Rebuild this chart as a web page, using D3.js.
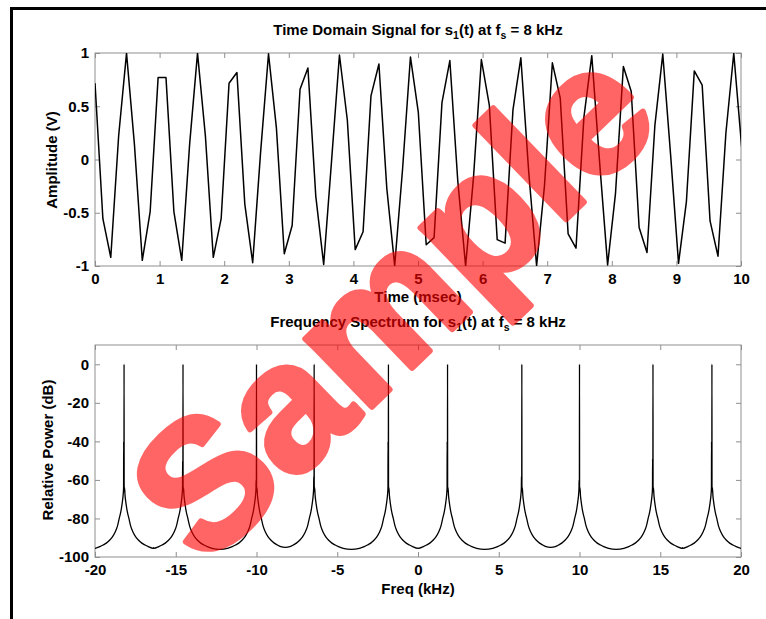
<!DOCTYPE html>
<html>
<head>
<meta charset="utf-8">
<script src="https://cdn.jsdelivr.net/npm/d3@7"></script>
<style>
  body { margin: 0; background: #fff; }
  svg { display: block; }
</style>
</head>
<body>
<div id="chart"></div>
<script>
// Time domain samples (msec, volts)
const sampleTimes = [
  0, 0.122, 0.244, 0.366, 0.488, 0.610, 0.732, 0.854, 0.977, 1.099,
  1.221, 1.343, 1.465, 1.587, 1.709, 1.831, 1.953, 2.075, 2.197, 2.319,
  2.441, 2.563, 2.686, 2.808, 2.930, 3.052, 3.174, 3.296, 3.418, 3.540,
  3.662, 3.784, 3.906, 4.028, 4.150, 4.272, 4.395, 4.517, 4.639, 4.761,
  4.883, 5.005, 5.127, 5.249, 5.371, 5.493, 5.615, 5.737, 5.859, 5.981,
  6.104, 6.226, 6.348, 6.470, 6.592, 6.714, 6.836, 6.958, 7.080, 7.202,
  7.324, 7.446, 7.568, 7.690, 7.813, 7.935, 8.057, 8.179, 8.301, 8.423,
  8.545, 8.667, 8.789, 8.911, 9.033, 9.155, 9.277, 9.399, 9.521, 9.644,
  9.766, 9.888, 10.010
];
const amplitudes = [
  0.717, -0.556, -0.919, 0.221, 0.999, 0.144, -0.947, -0.489, 0.769, 0.769,
  -0.489, -0.947, 0.144, 0.999, 0.221, -0.919, -0.556, 0.716, 0.817, -0.419,
  -0.969, 0.065, 0.993, 0.297, -0.885, -0.619, 0.659, 0.859, -0.346, -0.986,
  -0.013, 0.981, 0.371, -0.846, -0.679, 0.598, 0.897, -0.271, -0.996, -0.092,
  0.963, 0.442, -0.801, -0.734, 0.534, 0.929, -0.195, -1.000, -0.169, 0.938,
  0.511, -0.752, -0.785, 0.466, 0.955, -0.118, -0.998, -0.246, 0.908, 0.577,
  -0.698, -0.832, 0.395, 0.975, -0.039, -0.990, -0.321, 0.873, 0.639, -0.639,
  -0.873, 0.321, 0.990, 0.039, -0.975, -0.395, 0.832, 0.698, -0.577, -0.908,
  0.246, 0.998, 0.118
];

// Spectrum
const peakFreqs = [-18.2, -14.55, -10.0, -6.43, -1.83, 1.83, 6.43, 10.0, 14.55, 18.2];
const peakShoulderDb = [-40, -50, -60, -58, -40, -40, -58, -60, -49, -40];
const skirtOffsets = [0.03, 0.06, 0.1, 0.15, 0.2, 0.3, 0.41, 0.55, 0.72, 0.9, 1.1, 1.3, 1.5, 1.8, 2.3];
const skirtDb = [-64, -68, -71, -74, -76.5, -80, -84, -87, -89.5, -91.3, -92.8, -93.8, -94.6, -95.5, -96];
const gapFloorDb = [-95.2, -96, -95, -96, -95.3, -96, -95, -96, -95.2];

// Tick labels
const timeTicks = [0, 1, 2, 3, 4, 5, 6, 7, 8, 9, 10];
const ampTicks = [-1, -0.5, 0, 0.5, 1];
const freqTicks = [-20, -15, -10, -5, 0, 5, 10, 15, 20];
const powerTicks = [-100, -80, -60, -40, -20, 0];

const attrs = {
  svgWidth: 766,
  svgHeight: 619,
  font: "'Liberation Sans', Arial, Helvetica, sans-serif",
  fontSize: 15,
  boxColor: "#8f8f8f",
  tickSize: 5
};

const svg = d3.select("#chart").append("svg")
  .attr("width", attrs.svgWidth)
  .attr("height", attrs.svgHeight)
  .attr("font-family", attrs.font);

// outer frame (top and left edges only visible)
svg.append("rect")
  .attr("x", 11.5).attr("y", 8.5)
  .attr("width", 800).attr("height", 700)
  .attr("fill", "none").attr("stroke", "#000").attr("stroke-width", 3);

function drawPanel(opts) {
  const { x, y, xTicks, yTicks, id } = opts;
  const [x0, x1] = x.range();
  const [y0, y1] = y.range();
  const g = svg.append("g");
  const plain = d => String(d);

  g.append("clipPath").attr("id", id)
    .append("rect").attr("x", x0).attr("y", y1).attr("width", x1 - x0).attr("height", y0 - y1);

  const styleAxis = (sel, labels) => {
    sel.select(".domain").remove();
    sel.selectAll(".tick line").attr("stroke", attrs.boxColor);
    sel.selectAll(".tick text")
      .attr("fill", "#000")
      .attr("font-size", attrs.fontSize)
      .attr("font-weight", "bold")
      .attr("font-family", attrs.font);
    if (!labels) sel.selectAll(".tick text").remove();
  };

  g.append("g").attr("transform", `translate(0,${y0})`)
    .call(d3.axisBottom(x).tickValues(xTicks).tickSize(-attrs.tickSize).tickPadding(7).tickFormat(plain))
    .call(s => styleAxis(s, true));
  g.append("g").attr("transform", `translate(0,${y1})`)
    .call(d3.axisTop(x).tickValues(xTicks).tickSize(-attrs.tickSize))
    .call(s => styleAxis(s, false));
  g.append("g").attr("transform", `translate(${x0},0)`)
    .call(d3.axisLeft(y).tickValues(yTicks).tickSize(-attrs.tickSize).tickPadding(6).tickFormat(plain))
    .call(s => styleAxis(s, true));
  g.append("g").attr("transform", `translate(${x1},0)`)
    .call(d3.axisRight(y).tickValues(yTicks).tickSize(-attrs.tickSize))
    .call(s => styleAxis(s, false));

  g.append("rect")
    .attr("x", x0).attr("y", y1).attr("width", x1 - x0).attr("height", y0 - y1)
    .attr("fill", "none").attr("stroke", attrs.boxColor).attr("stroke-width", 1);

  return g;
}

function addTitle(cx, baseline, parts) {
  const t = svg.append("text")
    .attr("x", cx).attr("y", baseline)
    .attr("text-anchor", "middle")
    .attr("font-size", attrs.fontSize)
    .attr("font-weight", "bold");
  let shifted = false;
  parts.forEach(p => {
    const span = t.append("tspan").text(p.text);
    if (p.sub) { span.attr("dy", 4).attr("font-size", attrs.fontSize * 0.7); shifted = true; }
    else if (shifted) { span.attr("dy", -4); shifted = false; }
  });
}

function titleParts() {
  return [
    { text: "s" }, { text: "1", sub: true }, { text: "(t) at f" }, { text: "s", sub: true }, { text: " = 8 kHz" }
  ];
}

// ---- top panel: time domain ----
const xTime = d3.scaleLinear().domain([0, 10]).range([95, 741]);
const yAmp = d3.scaleLinear().domain([-1, 1]).range([266, 53]);
const timePanel = drawPanel({ x: xTime, y: yAmp, xTicks: timeTicks, yTicks: ampTicks, id: "clipTop" });

const timeSeries = sampleTimes.map((t, i) => [t, amplitudes[i]]);
timePanel.append("path")
  .datum(timeSeries)
  .attr("clip-path", "url(#clipTop)")
  .attr("fill", "none")
  .attr("stroke", "#000")
  .attr("stroke-width", 1.5)
  .attr("stroke-linejoin", "round")
  .attr("d", d3.line().x(d => xTime(d[0])).y(d => yAmp(d[1])));

addTitle(418, 35, [{ text: "Time Domain Signal for " }].concat(titleParts()));

svg.append("text")
  .attr("x", 418).attr("y", 302)
  .attr("text-anchor", "middle").attr("font-size", attrs.fontSize).attr("font-weight", "bold")
  .text("Time (msec)");
svg.append("text")
  .attr("transform", "translate(57,160) rotate(-90)")
  .attr("text-anchor", "middle").attr("font-size", attrs.fontSize).attr("font-weight", "bold")
  .text("Amplitude (V)");

// ---- bottom panel: spectrum ----
const xFreq = d3.scaleLinear().domain([-20, 20]).range([95, 741]);
const yDb = d3.scaleLinear().domain([-100, 10]).range([557, 345]);
const freqPanel = drawPanel({ x: xFreq, y: yDb, xTicks: freqTicks, yTicks: powerTicks, id: "clipBottom" });

const spectrum = [];
peakFreqs.forEach((p, i) => {
  const leftHalf = i === 0 ? Infinity : (p - peakFreqs[i - 1]) / 2;
  const rightHalf = i === peakFreqs.length - 1 ? Infinity : (peakFreqs[i + 1] - p) / 2;
  for (let k = skirtOffsets.length - 1; k >= 0; k--) {
    if (skirtOffsets[k] < leftHalf) spectrum.push([p - skirtOffsets[k], skirtDb[k]]);
  }
  spectrum.push([p - 0.025, peakShoulderDb[i]]);
  spectrum.push([p - 0.008, -66]);
  spectrum.push([p, 0]);
  spectrum.push([p + 0.006, -66]);
  for (let k = 0; k < skirtOffsets.length; k++) {
    if (skirtOffsets[k] < rightHalf) spectrum.push([p + skirtOffsets[k], skirtDb[k]]);
  }
  if (i < peakFreqs.length - 1) spectrum.push([p + rightHalf, gapFloorDb[i]]);
});

freqPanel.append("path")
  .datum(spectrum)
  .attr("clip-path", "url(#clipBottom)")
  .attr("fill", "none")
  .attr("stroke", "#000")
  .attr("stroke-width", 1.3)
  .attr("stroke-linejoin", "round")
  .attr("d", d3.line().curve(d3.curveMonotoneX).x(d => xFreq(d[0])).y(d => yDb(d[1])));

addTitle(418, 327, [{ text: "Frequency Spectrum for " }].concat(titleParts()));

svg.append("text")
  .attr("x", 418).attr("y", 594)
  .attr("text-anchor", "middle").attr("font-size", attrs.fontSize).attr("font-weight", "bold")
  .text("Freq (kHz)");
svg.append("text")
  .attr("transform", "translate(53,450) rotate(-90)")
  .attr("text-anchor", "middle").attr("font-size", attrs.fontSize).attr("font-weight", "bold")
  .text("Relative Power (dB)");

// ---- watermark ----
svg.append("g")
  .attr("opacity", 0.6)
  .append("text")
  .attr("transform", "translate(396,306) rotate(-44)")
  .attr("text-anchor", "middle")
  .attr("dy", "0.31em")
  .attr("font-size", 180)
  .attr("font-weight", "bold")
  .attr("fill", "#ff0000")
  .attr("stroke", "#ff0000")
  .attr("stroke-width", 6)
  .attr("stroke-linejoin", "round")
  .text("Sample");
</script>
</body>
</html>
